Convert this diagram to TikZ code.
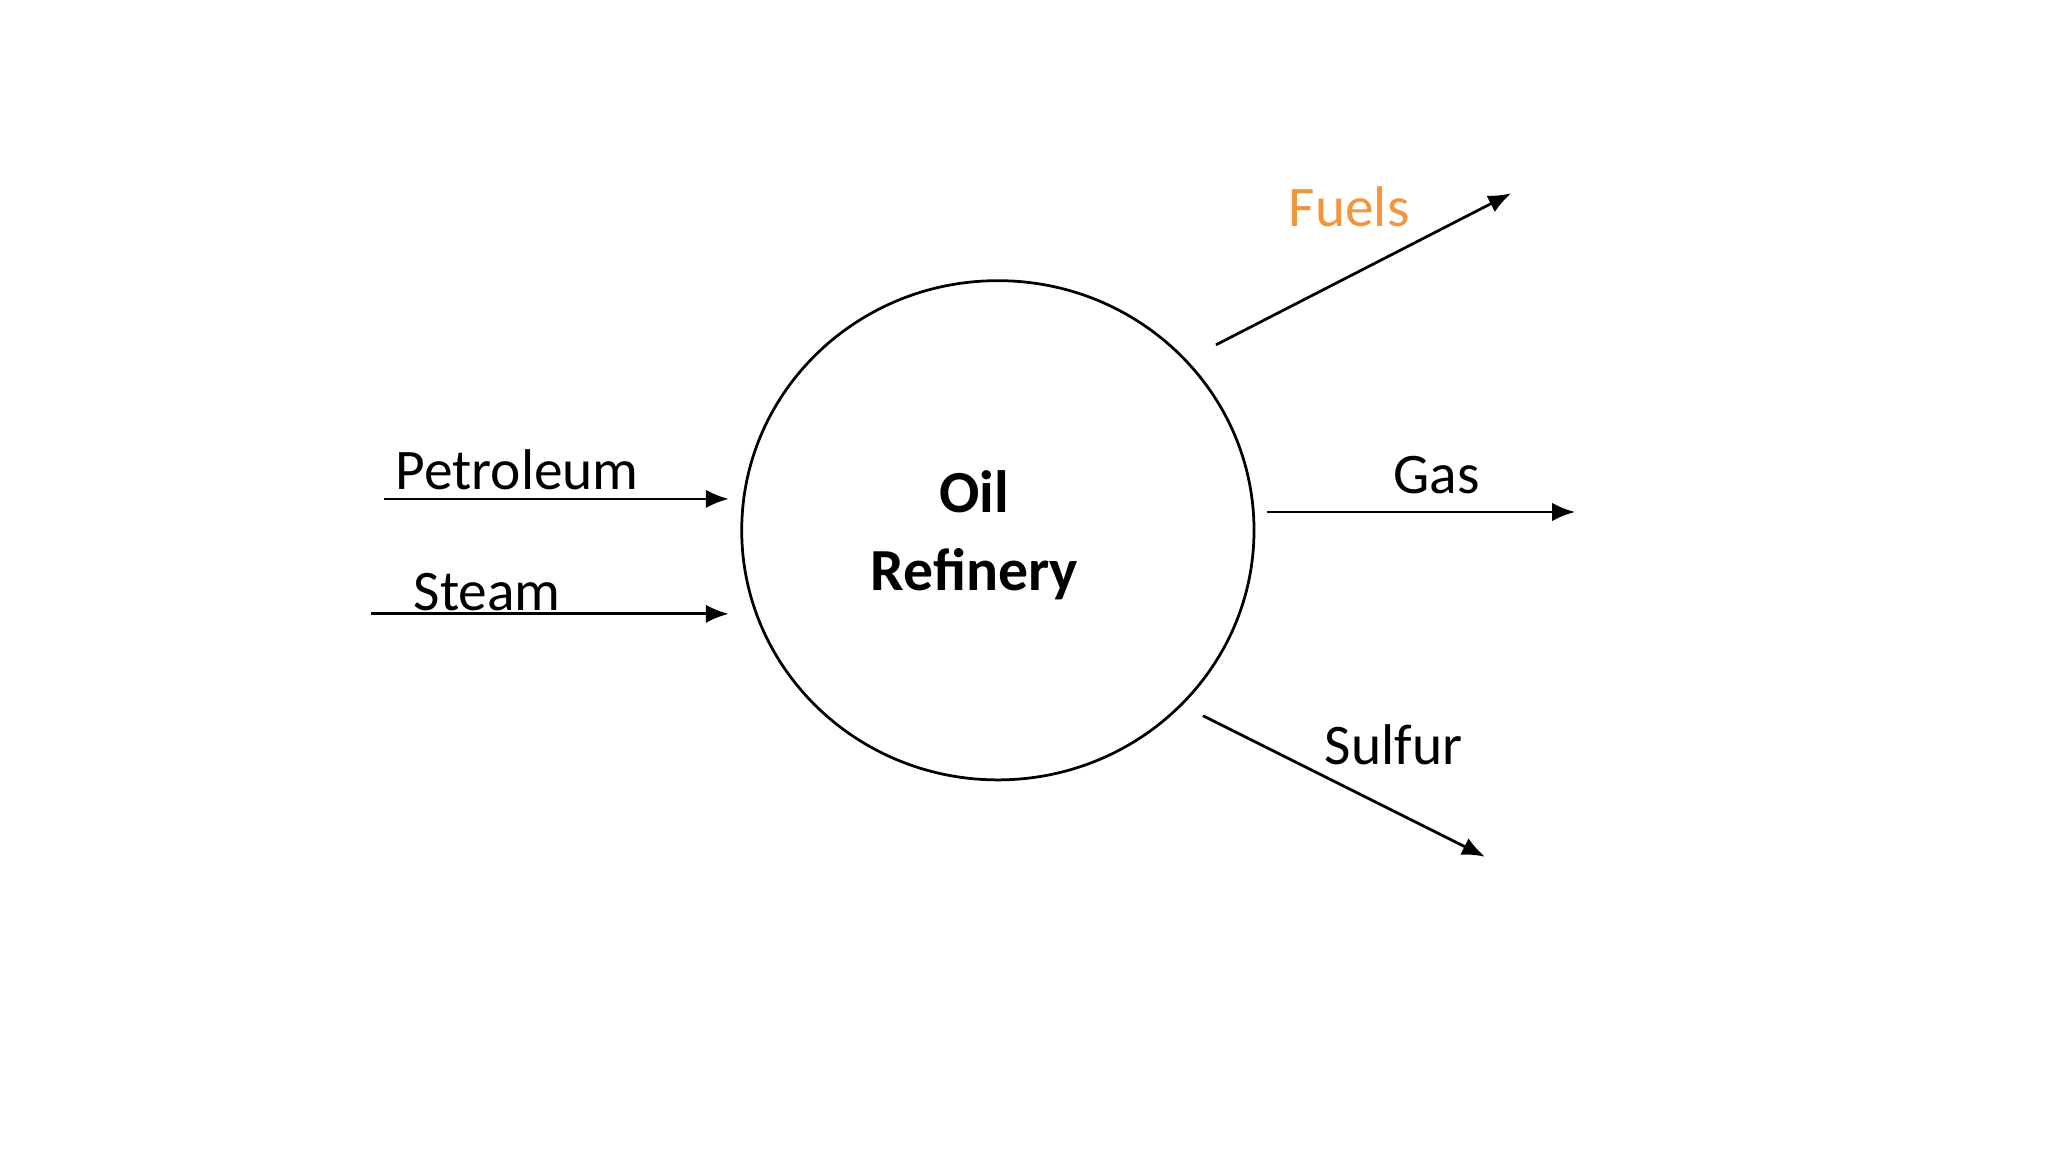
\documentclass[tikz,border=0pt]{standalone}
\usepackage{fontspec}
\setmainfont{Carlito}
\usetikzlibrary{arrows.meta,shapes.geometric}
\definecolor{fuel}{RGB}{240,150,60}
\begin{document}
\begin{tikzpicture}[x=0.01cm,y=-0.01cm,
  flow/.style={-{Latex[length=5pt,width=4pt]},line width=0.6pt},
  lbl/.style={font=\fontsize{12.5}{14}\selectfont,inner sep=0pt}]
\useasboundingbox (0,0) rectangle (1568,882);
\node[ellipse,draw,line width=0.6pt,minimum width=3.92cm,minimum height=3.82cm,inner sep=0pt] (c) at (764,406) {};
\node[font=\fontsize{13}{17}\selectfont\bfseries,align=center] (t) at (746,410) {Oil\\Refinery};
\coordinate (p1) at (294,382); \coordinate (p2) at (558,382);
\coordinate (s1) at (284,470); \coordinate (s2) at (558,470);
\coordinate (f1) at (931,264); \coordinate (f2) at (1157,148);
\coordinate (g1) at (970,392); \coordinate (g2) at (1206,392);
\coordinate (u1) at (921,548); \coordinate (u2) at (1137,656);
\draw[flow] (p1) -- (p2);
\draw[flow] (s1) -- (s2);
\draw[flow] (f1) -- (f2);
\draw[flow] (g1) -- (g2);
\draw[flow] (u1) -- (u2);
\node[lbl] (lp) at (396,360) {Petroleum};
\node[lbl] (ls) at (373,453) {Steam};
\node[lbl,text=fuel] (lf) at (1033,158) {Fuels};
\node[lbl] (lg) at (1100,364) {Gas};
\node[lbl] (lu) at (1067,570) {Sulfur};
\end{tikzpicture}
\end{document}
